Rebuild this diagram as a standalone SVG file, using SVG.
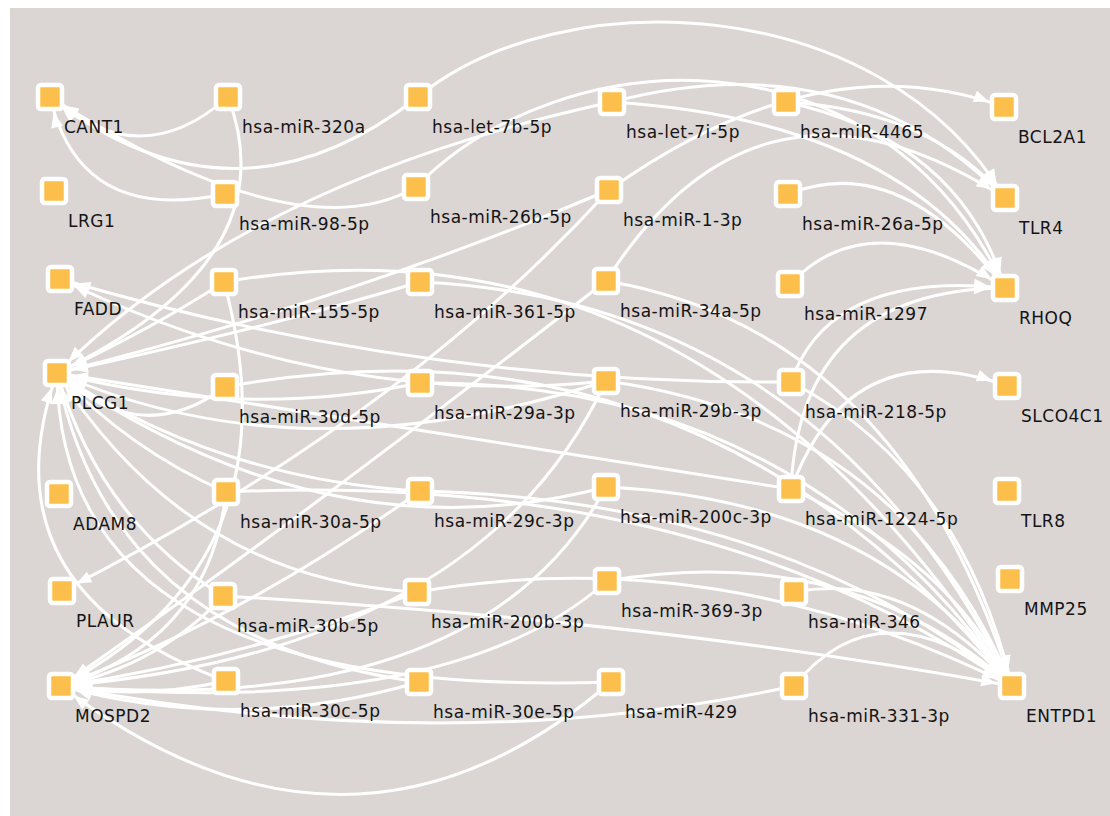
<svg xmlns="http://www.w3.org/2000/svg" width="1110" height="816" viewBox="0 0 1110 816">
<style>
.bg{fill:#dbd6d4}
.e{fill:none;stroke:#ffffff;stroke-width:3;marker-end:url(#arr)}
.n{fill:#fcbf4b;stroke:#ffffff;stroke-width:4.5}
.t{font-family:"DejaVu Sans","Liberation Sans",sans-serif;font-size:17px;letter-spacing:0.5px;fill:#141414}
</style>
<defs>
<marker id="arr" markerUnits="userSpaceOnUse" viewBox="-40 -10 40 20" markerWidth="40" markerHeight="20" refX="0" refY="0" orient="auto">
<path d="M-16,0 L-31,-6 L-31,6 Z" fill="#ffffff"/>
</marker>
</defs>
<rect x="0" y="0" width="1110" height="816" fill="#ffffff"/>
<rect class="bg" x="10" y="8" width="1100" height="808"/>
<g id="connectors">
<path class="e" d="M228,97 Q140,175 50,97"/>
<path class="e" d="M418,97 Q235,240 50,97"/>
<path class="e" d="M225,194 Q80,225 50,97"/>
<path class="e" d="M416,187 Q300,255 50,97"/>
<path class="e" d="M791,382 Q420,385 60,279"/>
<path class="e" d="M606,381 Q330,410 60,279"/>
<path class="e" d="M612,102 Q250,180 57,373"/>
<path class="e" d="M228,97 Q290,260 57,373"/>
<path class="e" d="M224,282 Q150,330 57,373"/>
<path class="e" d="M225,387 Q140,450 57,373"/>
<path class="e" d="M420,383 Q240,420 57,373"/>
<path class="e" d="M420,282 Q260,330 57,373"/>
<path class="e" d="M606,381 Q300,480 57,373"/>
<path class="e" d="M226,492 Q130,450 57,373"/>
<path class="e" d="M420,491 Q220,480 57,373"/>
<path class="e" d="M606,487 Q330,560 57,373"/>
<path class="e" d="M223,596 Q100,520 57,373"/>
<path class="e" d="M417,592 Q190,580 57,373"/>
<path class="e" d="M419,682 Q110,640 57,373"/>
<path class="e" d="M226,681 Q-20,590 57,373"/>
<path class="e" d="M611,682 Q60,700 57,373"/>
<path class="e" d="M791,489 Q420,430 57,373"/>
<path class="e" d="M609,190 Q350,300 57,373"/>
<path class="e" d="M609,190 Q400,420 62,591"/>
<path class="e" d="M611,682 Q350,905 61,686"/>
<path class="e" d="M794,686 Q450,760 61,686"/>
<path class="e" d="M226,681 Q140,700 61,686"/>
<path class="e" d="M419,682 Q240,735 61,686"/>
<path class="e" d="M417,592 Q240,660 61,686"/>
<path class="e" d="M223,596 Q160,665 61,686"/>
<path class="e" d="M420,491 Q240,620 61,686"/>
<path class="e" d="M606,487 Q480,720 61,686"/>
<path class="e" d="M224,282 Q300,560 61,686"/>
<path class="e" d="M226,492 Q210,640 61,686"/>
<path class="e" d="M606,281 Q300,520 61,686"/>
<path class="e" d="M606,381 Q480,650 61,686"/>
<path class="e" d="M607,581 Q450,720 61,686"/>
<path class="e" d="M609,190 Q820,40 1004,107"/>
<path class="e" d="M418,97 C560,-20 880,-10 1005,198"/>
<path class="e" d="M612,102 Q850,40 1005,198"/>
<path class="e" d="M786,102 Q930,110 1005,198"/>
<path class="e" d="M606,281 Q760,40 1005,198"/>
<path class="e" d="M788,194 Q900,150 1005,288"/>
<path class="e" d="M790,284 Q870,200 1005,288"/>
<path class="e" d="M791,382 Q830,270 1005,288"/>
<path class="e" d="M791,489 Q800,290 1005,288"/>
<path class="e" d="M786,102 Q960,140 1005,288"/>
<path class="e" d="M612,102 Q900,120 1005,288"/>
<path class="e" d="M416,187 C560,40 880,20 1005,288"/>
<path class="e" d="M791,489 Q850,330 1007,386"/>
<path class="e" d="M224,282 Q700,200 1012,686"/>
<path class="e" d="M420,282 Q820,300 1012,686"/>
<path class="e" d="M606,281 Q900,330 1012,686"/>
<path class="e" d="M225,387 Q700,300 1012,686"/>
<path class="e" d="M420,383 Q800,380 1012,686"/>
<path class="e" d="M606,381 Q900,420 1012,686"/>
<path class="e" d="M791,382 Q960,470 1012,686"/>
<path class="e" d="M226,492 Q700,470 1012,686"/>
<path class="e" d="M420,491 Q780,500 1012,686"/>
<path class="e" d="M606,487 Q880,500 1012,686"/>
<path class="e" d="M791,489 Q950,560 1012,686"/>
<path class="e" d="M223,596 Q650,620 1012,686"/>
<path class="e" d="M417,592 Q720,540 1012,686"/>
<path class="e" d="M607,581 Q850,540 1012,686"/>
<path class="e" d="M794,592 Q910,570 1012,686"/>
<path class="e" d="M794,686 Q880,580 1012,686"/>
</g>
<g id="n-CANT1"><rect class="n" x="38" y="85" width="24" height="24" rx="3"/><text class="t" x="64" y="133">CANT1</text></g>
<g id="n-LRG1"><rect class="n" x="42" y="179" width="24" height="24" rx="3"/><text class="t" x="68" y="227">LRG1</text></g>
<g id="n-FADD"><rect class="n" x="48" y="267" width="24" height="24" rx="3"/><text class="t" x="74" y="315">FADD</text></g>
<g id="n-PLCG1"><rect class="n" x="45" y="361" width="24" height="24" rx="3"/><text class="t" x="71" y="409">PLCG1</text></g>
<g id="n-ADAM8"><rect class="n" x="47" y="482" width="24" height="24" rx="3"/><text class="t" x="73" y="530">ADAM8</text></g>
<g id="n-PLAUR"><rect class="n" x="50" y="579" width="24" height="24" rx="3"/><text class="t" x="76" y="627">PLAUR</text></g>
<g id="n-MOSPD2"><rect class="n" x="49" y="674" width="24" height="24" rx="3"/><text class="t" x="75" y="722">MOSPD2</text></g>
<g id="n-miR-320a"><rect class="n" x="216" y="85" width="24" height="24" rx="3"/><text class="t" x="242" y="133">hsa-miR-320a</text></g>
<g id="n-miR-98-5p"><rect class="n" x="213" y="182" width="24" height="24" rx="3"/><text class="t" x="239" y="230">hsa-miR-98-5p</text></g>
<g id="n-miR-155-5p"><rect class="n" x="212" y="270" width="24" height="24" rx="3"/><text class="t" x="238" y="318">hsa-miR-155-5p</text></g>
<g id="n-miR-30d-5p"><rect class="n" x="213" y="375" width="24" height="24" rx="3"/><text class="t" x="239" y="423">hsa-miR-30d-5p</text></g>
<g id="n-miR-30a-5p"><rect class="n" x="214" y="480" width="24" height="24" rx="3"/><text class="t" x="240" y="528">hsa-miR-30a-5p</text></g>
<g id="n-miR-30b-5p"><rect class="n" x="211" y="584" width="24" height="24" rx="3"/><text class="t" x="237" y="632">hsa-miR-30b-5p</text></g>
<g id="n-miR-30c-5p"><rect class="n" x="214" y="669" width="24" height="24" rx="3"/><text class="t" x="240" y="717">hsa-miR-30c-5p</text></g>
<g id="n-let-7b-5p"><rect class="n" x="406" y="85" width="24" height="24" rx="3"/><text class="t" x="432" y="133">hsa-let-7b-5p</text></g>
<g id="n-miR-26b-5p"><rect class="n" x="404" y="175" width="24" height="24" rx="3"/><text class="t" x="430" y="223">hsa-miR-26b-5p</text></g>
<g id="n-miR-361-5p"><rect class="n" x="408" y="270" width="24" height="24" rx="3"/><text class="t" x="434" y="318">hsa-miR-361-5p</text></g>
<g id="n-miR-29a-3p"><rect class="n" x="408" y="371" width="24" height="24" rx="3"/><text class="t" x="434" y="419">hsa-miR-29a-3p</text></g>
<g id="n-miR-29c-3p"><rect class="n" x="408" y="479" width="24" height="24" rx="3"/><text class="t" x="434" y="527">hsa-miR-29c-3p</text></g>
<g id="n-miR-200b-3p"><rect class="n" x="405" y="580" width="24" height="24" rx="3"/><text class="t" x="431" y="628">hsa-miR-200b-3p</text></g>
<g id="n-miR-30e-5p"><rect class="n" x="407" y="670" width="24" height="24" rx="3"/><text class="t" x="433" y="718">hsa-miR-30e-5p</text></g>
<g id="n-let-7i-5p"><rect class="n" x="600" y="90" width="24" height="24" rx="3"/><text class="t" x="626" y="138">hsa-let-7i-5p</text></g>
<g id="n-miR-1-3p"><rect class="n" x="597" y="178" width="24" height="24" rx="3"/><text class="t" x="623" y="226">hsa-miR-1-3p</text></g>
<g id="n-miR-34a-5p"><rect class="n" x="594" y="269" width="24" height="24" rx="3"/><text class="t" x="620" y="317">hsa-miR-34a-5p</text></g>
<g id="n-miR-29b-3p"><rect class="n" x="594" y="369" width="24" height="24" rx="3"/><text class="t" x="620" y="417">hsa-miR-29b-3p</text></g>
<g id="n-miR-200c-3p"><rect class="n" x="594" y="475" width="24" height="24" rx="3"/><text class="t" x="620" y="523">hsa-miR-200c-3p</text></g>
<g id="n-miR-369-3p"><rect class="n" x="595" y="569" width="24" height="24" rx="3"/><text class="t" x="621" y="617">hsa-miR-369-3p</text></g>
<g id="n-miR-429"><rect class="n" x="599" y="670" width="24" height="24" rx="3"/><text class="t" x="625" y="718">hsa-miR-429</text></g>
<g id="n-miR-4465"><rect class="n" x="774" y="90" width="24" height="24" rx="3"/><text class="t" x="800" y="138">hsa-miR-4465</text></g>
<g id="n-miR-26a-5p"><rect class="n" x="776" y="182" width="24" height="24" rx="3"/><text class="t" x="802" y="230">hsa-miR-26a-5p</text></g>
<g id="n-miR-1297"><rect class="n" x="778" y="272" width="24" height="24" rx="3"/><text class="t" x="804" y="320">hsa-miR-1297</text></g>
<g id="n-miR-218-5p"><rect class="n" x="779" y="370" width="24" height="24" rx="3"/><text class="t" x="805" y="418">hsa-miR-218-5p</text></g>
<g id="n-miR-1224-5p"><rect class="n" x="779" y="477" width="24" height="24" rx="3"/><text class="t" x="805" y="525">hsa-miR-1224-5p</text></g>
<g id="n-miR-346"><rect class="n" x="782" y="580" width="24" height="24" rx="3"/><text class="t" x="808" y="628">hsa-miR-346</text></g>
<g id="n-miR-331-3p"><rect class="n" x="782" y="674" width="24" height="24" rx="3"/><text class="t" x="808" y="722">hsa-miR-331-3p</text></g>
<g id="n-BCL2A1"><rect class="n" x="992" y="95" width="24" height="24" rx="3"/><text class="t" x="1018" y="143">BCL2A1</text></g>
<g id="n-TLR4"><rect class="n" x="993" y="186" width="24" height="24" rx="3"/><text class="t" x="1019" y="234">TLR4</text></g>
<g id="n-RHOQ"><rect class="n" x="993" y="276" width="24" height="24" rx="3"/><text class="t" x="1019" y="324">RHOQ</text></g>
<g id="n-SLCO4C1"><rect class="n" x="995" y="374" width="24" height="24" rx="3"/><text class="t" x="1021" y="422">SLCO4C1</text></g>
<g id="n-TLR8"><rect class="n" x="995" y="479" width="24" height="24" rx="3"/><text class="t" x="1021" y="527">TLR8</text></g>
<g id="n-MMP25"><rect class="n" x="998" y="567" width="24" height="24" rx="3"/><text class="t" x="1024" y="615">MMP25</text></g>
<g id="n-ENTPD1"><rect class="n" x="1000" y="674" width="24" height="24" rx="3"/><text class="t" x="1026" y="722">ENTPD1</text></g>
</svg>
